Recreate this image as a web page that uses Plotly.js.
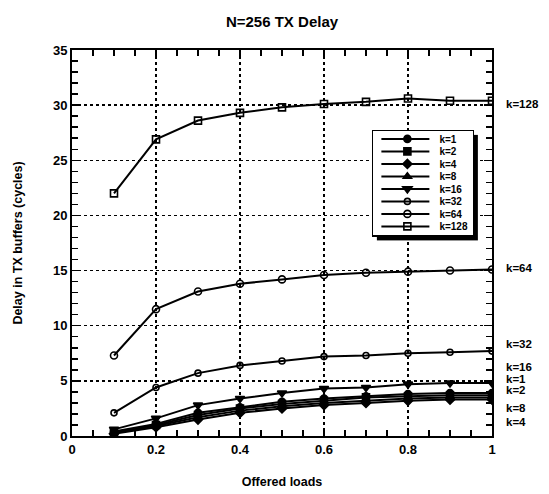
<!DOCTYPE html>
<html><head><meta charset="utf-8">
<script src="https://cdn.plot.ly/plotly-3.0.1.min.js"></script>
<style>body{margin:0;background:#fff}</style>
</head><body><div id="chart" style="width:549px;height:494px"></div>
<script>
const loads = [0.1,0.2,0.3,0.4,0.5,0.6,0.7,0.8,0.9,1.0];
const k1   = [0.4,1.1,2.1,2.6,3.1,3.4,3.6,3.8,3.9,3.9];
const k2   = [0.3,1.0,1.9,2.5,2.9,3.2,3.5,3.6,3.7,3.7];
const k4   = [0.2,0.8,1.5,2.1,2.5,2.8,3.0,3.2,3.3,3.3];
const k8   = [0.3,0.9,1.7,2.3,2.7,3.0,3.2,3.4,3.5,3.5];
const k16  = [0.6,1.6,2.8,3.4,3.9,4.3,4.4,4.7,4.8,4.8];
const k32  = [2.1,4.4,5.7,6.4,6.8,7.2,7.3,7.5,7.6,7.7];
const k64  = [7.3,11.5,13.1,13.8,14.2,14.6,14.8,14.9,15.0,15.1];
const k128 = [22.0,26.9,28.6,29.3,29.8,30.1,30.3,30.6,30.4,30.4];
const seriesNames = ["k=1","k=2","k=4","k=8","k=16","k=32","k=64","k=128"];
const seriesData = [k1,k2,k4,k8,k16,k32,k64,k128];
const symbols = ["circle","square","diamond","triangle-up","triangle-down","circle-open","circle-open","square-open"];
const sizes = [7,7,7,7,8,6,7,7];
const sideLabels = ["k=128","k=64","k=32","k=16","k=1","k=2","k=8","k=4"];
const sideLabelY = [30.1,15.2,8.3,6.3,5.2,4.2,2.5,1.3];

const FONT = 'Liberation Sans, Arial, Helvetica, sans-serif';

const traces = seriesNames.map((n,i)=>({
  x: loads, y: seriesData[i], name: n, type:'scatter', mode:'lines+markers',
  line:{color:'#000',width:2},
  marker:{symbol:symbols[i],size:sizes[i],color:'#000',line:{color:'#000',width:1.6}}
}));

const annotations = sideLabels.map((t,i)=>({
  x:1, xref:'paper', xshift:12, y:sideLabelY[i], yref:'y', text:'<b>'+t+'</b>', showarrow:false,
  xanchor:'left', yanchor:'middle', font:{family:FONT,size:11.5,color:'#000'}
}));

const layout = {
  width:549, height:494,
  margin:{l:72,r:57,t:50,b:58},
  paper_bgcolor:'#fff', plot_bgcolor:'#fff',
  font:{family:FONT,color:'#000'},
  title:{text:'<b>N=256 TX Delay</b>', x:0.5, xanchor:'center', xref:'paper', y:0.955, yanchor:'middle', font:{size:15}},
  showlegend:true,
  legend:{x:0.714, y:0.793, xanchor:'left', yanchor:'top', bgcolor:'#fff',
    bordercolor:'#000', borderwidth:1.5, font:{family:FONT,size:10,weight:'bold'},
    tracegroupgap:0, itemwidth:40},
  xaxis:{range:[0,1], dtick:0.2, showline:true, linecolor:'#000', linewidth:2,
    mirror:'allticks', ticks:'inside', ticklen:8, tickwidth:1.5, tickcolor:'#000',
    showgrid:true, gridcolor:'#000', griddash:'dot', gridwidth:1.5, zeroline:false,
    minor:{dtick:0.05, ticks:'inside', ticklen:6, tickcolor:'#000'},
    tickfont:{size:13, family:FONT, weight:'bold'},
    title:{text:'<b>Offered loads</b>', font:{size:12.5}, standoff:22}},
  yaxis:{range:[0,35], dtick:5, showline:true, linecolor:'#000', linewidth:2,
    mirror:'allticks', ticks:'inside', ticklen:8, tickwidth:1.5, tickcolor:'#000',
    showgrid:true, gridcolor:'#000', griddash:'dot', gridwidth:1.5, zeroline:false,
    minor:{dtick:1, ticks:'inside', ticklen:6, tickcolor:'#000'},
    tickfont:{size:13, family:FONT, weight:'bold'},
    title:{text:'<b>Delay in TX buffers (cycles)</b>', font:{size:12.5}, standoff:28}},
  annotations: annotations
};

Plotly.newPlot('chart', traces, layout, {displayModeBar:false, staticPlot:true}).then(gd=>{
  // compact legend rows, longer line samples and a drop shadow, like the original figure
  const leg = gd.querySelector('g.legend');
  if(!leg) return;
  const items = leg.querySelectorAll('g.traces');
  const step = 12.5, first = 9, extra = 18;
  items.forEach((it,i)=>{
    const m = /translate\(([-\d.]+)[ ,]+([-\d.]+)\)/.exec(it.getAttribute('transform')||'');
    const x = m ? parseFloat(m[1]) : 0;
    it.setAttribute('transform','translate('+x+','+(first+i*step)+')');
    it.querySelectorAll('path.js-line').forEach(p=>p.setAttribute('d','M8,0h'+(30+extra)));
    it.querySelectorAll('path.scatterpts').forEach(p=>p.setAttribute('transform','translate('+(20+extra/2+5)+',0)'));
    it.querySelectorAll('text.legendtext').forEach(t=>{
      const tx = parseFloat(t.getAttribute('x')||'40');
      t.setAttribute('x', tx+extra-2);
      t.querySelectorAll('tspan').forEach(s=>{ if(s.getAttribute('x')) s.setAttribute('x', tx+extra-2); });
    });
  });
  const bg = leg.querySelector('rect.bg');
  const W = 101, H = first + (items.length-1)*step + 9;
  bg.setAttribute('width', W); bg.setAttribute('height', H);
  document.querySelectorAll('clipPath[id*="legend"] rect').forEach(r=>{r.setAttribute('width', W+10); r.setAttribute('height', H+10);});
  const sh = document.createElementNS('http://www.w3.org/2000/svg','rect');
  sh.setAttribute('x', 5); sh.setAttribute('y', 5);
  sh.setAttribute('width', W); sh.setAttribute('height', H);
  sh.setAttribute('fill', '#000');
  leg.insertBefore(sh, bg);
});
</script></body></html>
